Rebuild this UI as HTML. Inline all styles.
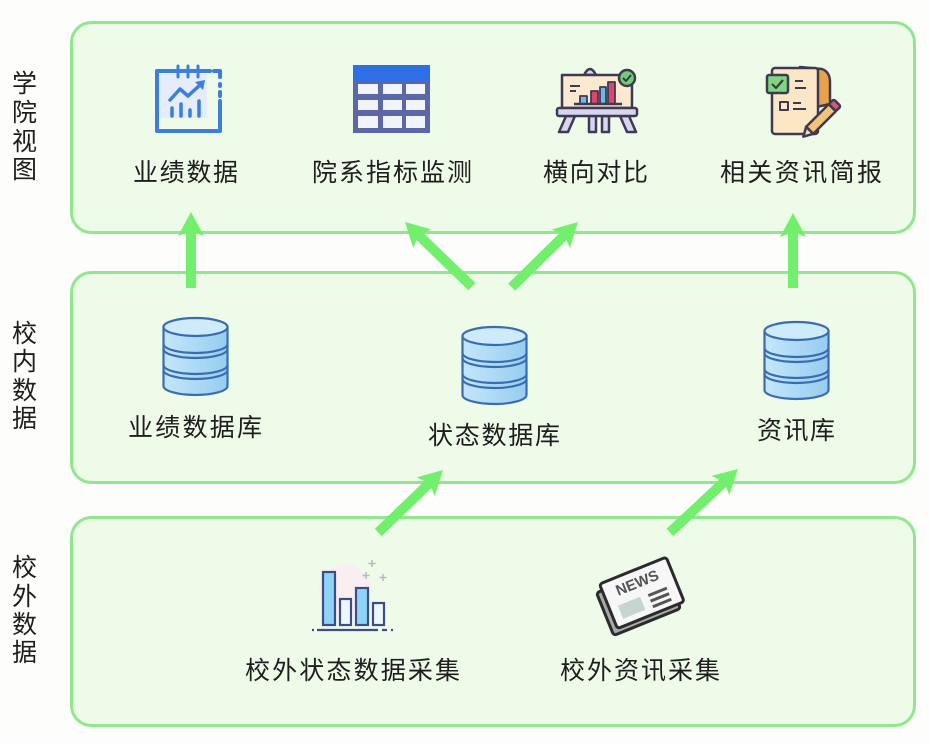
<!DOCTYPE html>
<html><head><meta charset="utf-8"><style>
html,body{margin:0;padding:0;background:#fdfdfb;}
svg{display:block;}
text{font-family:"Liberation Sans","Noto Sans CJK SC",sans-serif;fill:#1e1e1e;}
</style></head><body>
<svg width="930" height="744" viewBox="0 0 930 744" xmlns="http://www.w3.org/2000/svg">
<defs>
<linearGradient id="dbg" x1="0" y1="0" x2="1" y2="0">
<stop offset="0" stop-color="#c4e6fa"/><stop offset="1" stop-color="#96cdf0"/>
</linearGradient>
</defs>
<rect width="930" height="744" fill="#fdfdfb"/>
<!-- boxes -->
<rect x="71.5" y="22.5" width="843" height="210" rx="20" fill="#effbe9" stroke="#8fe88b" stroke-width="3"/>
<rect x="71.5" y="272.5" width="843" height="210" rx="20" fill="#effbe9" stroke="#8fe88b" stroke-width="3"/>
<rect x="71.5" y="517.5" width="843" height="208" rx="20" fill="#effbe9" stroke="#8fe88b" stroke-width="3"/>

<!-- vertical labels -->
<g font-size="25">
<text x="12" y="92">学</text><text x="12" y="121">院</text><text x="12" y="150">视</text><text x="12" y="178">图</text>
<text x="12" y="342">校</text><text x="12" y="370">内</text><text x="12" y="399">数</text><text x="12" y="427">据</text>
<text x="12" y="576">校</text><text x="12" y="605">外</text><text x="12" y="633">数</text><text x="12" y="661">据</text>
</g>

<!-- arrows -->
<g fill="#72ef6c">
<polygon transform="translate(191,212)" points="0,0 13,24 5,21 5,76 -5,76 -5,21 -13,24"/>
<polygon transform="translate(793,213)" points="0,0 13,24 5,21 5,75 -5,75 -5,21 -13,24"/>
<polygon transform="translate(405,222) rotate(-46)" points="0,0 13,24 5,21 5,93 -5,93 -5,21 -13,24"/>
<polygon transform="translate(578,222) rotate(45.5)" points="0,0 13,24 5,21 5,93 -5,93 -5,21 -13,24"/>
<polygon transform="translate(443,470) rotate(46)" points="0,0 13,24 5,21 5,90 -5,90 -5,21 -13,24"/>
<polygon transform="translate(738,469) rotate(47)" points="0,0 13,24 5,21 5,93 -5,93 -5,21 -13,24"/>
</g>

<!-- icon 1: calendar chart -->
<rect x="159" y="74" width="48" height="44" fill="#e4edf9"/>
<g stroke="#3b7de0" fill="none" stroke-width="4" stroke-linecap="round" stroke-linejoin="round">
<path d="M210,71 H157 V131 H220 V101"/>
<path d="M220,92 V96"/>
<path d="M220,84 V86"/>
<path d="M214,71 H220 V77"/>
<path d="M178,66 V77 M188,66 V77 M198,66 V77" stroke-width="3"/>
<polyline points="170,100 180,89 188,96 200,85" stroke-width="3.5"/>
<path d="M172,108 V116 M181,104 V116 M190,110 V116 M199,101 V116" stroke-width="3.5"/>
</g>
<polygon points="205,80 195,82 203,90" fill="#3b7de0"/>

<!-- icon 2: table -->
<rect x="353" y="65" width="77" height="68" fill="#5b67a6"/>
<rect x="353" y="65" width="77" height="17" fill="#2f6fe6"/>
<g fill="#f1f5fb">
<rect x="358" y="84" width="20" height="10"/><rect x="383" y="84" width="19" height="10"/><rect x="406" y="84" width="19" height="10"/>
<rect x="358" y="100" width="20" height="10"/><rect x="383" y="100" width="19" height="10"/><rect x="406" y="100" width="19" height="10"/>
<rect x="358" y="116" width="20" height="12"/><rect x="383" y="116" width="19" height="12"/><rect x="406" y="116" width="19" height="12"/>
</g>

<!-- icon 3: easel -->
<g stroke="#3d3a52" stroke-width="2.5" stroke-linejoin="round">
<path d="M584,75 Q590,63 596,75 Z" fill="#d9d4f0"/>
<rect x="562" y="75" width="70" height="33" fill="#fce9d0"/>
<polygon points="566,116 575,116 568,132 559,132" fill="#d9d4f0"/>
<rect x="589" y="116" width="7" height="16" fill="#d9d4f0"/>
<rect x="602" y="116" width="7" height="16" fill="#d9d4f0"/>
<polygon points="620,116 629,116 636,132 627,132" fill="#d9d4f0"/>
<rect x="557" y="108" width="80" height="8" rx="2" fill="#d9d4f0"/>
<rect x="580" y="96" width="7" height="8" fill="#6fb8ec" stroke-width="1.8"/>
<rect x="591" y="91" width="7" height="13" fill="#e0446a" stroke-width="1.8"/>
<rect x="600" y="87" width="6" height="17" fill="#6fb8ec" stroke-width="1.8"/>
<rect x="608" y="82" width="7" height="22" fill="#e0446a" stroke-width="1.8"/>
<path d="M574,104 H622" fill="none"/>
<path d="M570,86 H580 M570,91 H576" fill="none" stroke-width="2"/>
<circle cx="627" cy="78" r="8" fill="#6fcf73"/>
<path d="M623,78 L626,81 L631,75" fill="none" stroke-width="2"/>
</g>

<!-- icon 4: document + pencil -->
<g stroke="#3d3a52" stroke-width="2.5" stroke-linejoin="round">
<path d="M800,67 L822,69 Q830,72 830,82 L830,104 L812,108 Z" fill="#e9a14a"/>
<rect x="772" y="68" width="46" height="66" rx="3" fill="#fbe6c6"/>
<rect x="767" y="75" width="21" height="18" rx="2" fill="#7ed67f"/>
<path d="M772,84 L776,88 L783,80" fill="none" stroke-width="2.2"/>
<path d="M795,81 H803 M795,88 H806" fill="none" stroke-width="2"/>
<rect x="780" y="102" width="8" height="8" fill="#fbe6c6" stroke-width="2"/>
<path d="M793,103 H801 M793,109 H806" fill="none" stroke-width="2"/>
<g transform="translate(821,119) rotate(-45)">
<rect x="-16" y="-5" width="32" height="10" fill="#f3c37c"/>
<rect x="16" y="-5" width="7" height="10" rx="2" fill="#d9577e"/>
<path d="M-16,-5 L-25,0 L-16,5 Z" fill="#f6dcb0"/>
</g>
</g>

<!-- DB icons -->
<g transform="translate(195.5,318)" stroke="#3a6cb0" stroke-width="2.2">
<path d="M-32,9 V68 A32,9 0 0 0 32,68 V9 Z" fill="url(#dbg)"/>
<path d="M-32,26 A32,9 0 0 0 32,26 M-32,31 A32,9 0 0 0 32,31 M-32,47 A32,9 0 0 0 32,47 M-32,52 A32,9 0 0 0 32,52" fill="none"/>
<ellipse cx="0" cy="9" rx="32" ry="9" fill="#cdebfb"/>
</g>
<g transform="translate(494.5,327)" stroke="#3a6cb0" stroke-width="2.2">
<path d="M-32,9 V68 A32,9 0 0 0 32,68 V9 Z" fill="url(#dbg)"/>
<path d="M-32,26 A32,9 0 0 0 32,26 M-32,31 A32,9 0 0 0 32,31 M-32,47 A32,9 0 0 0 32,47 M-32,52 A32,9 0 0 0 32,52" fill="none"/>
<ellipse cx="0" cy="9" rx="32" ry="9" fill="#cdebfb"/>
</g>
<g transform="translate(796.5,322)" stroke="#3a6cb0" stroke-width="2.2">
<path d="M-32,9 V68 A32,9 0 0 0 32,68 V9 Z" fill="url(#dbg)"/>
<path d="M-32,26 A32,9 0 0 0 32,26 M-32,31 A32,9 0 0 0 32,31 M-32,47 A32,9 0 0 0 32,47 M-32,52 A32,9 0 0 0 32,52" fill="none"/>
<ellipse cx="0" cy="9" rx="32" ry="9" fill="#cdebfb"/>
</g>

<!-- bar chart icon -->
<circle cx="345" cy="590" r="26" fill="#fbeef0"/>
<g stroke="#3f4c8a" stroke-width="2.2" fill="#8fd3f7">
<rect x="323" y="572" width="12" height="53"/>
<rect x="340" y="599" width="11" height="26" fill="#eef7fc"/>
<rect x="356" y="588" width="12" height="37"/>
<rect x="373" y="603" width="11" height="22" fill="#eef7fc"/>
<path d="M317,630 H378 M382,630 H387 M391,630 H393 M312,630 H314" fill="none"/>
</g>
<g stroke="#b7b7c0" stroke-width="1.5">
<path d="M372,560 V567 M368.5,563.5 H375.5"/>
<path d="M366,572 V579 M362.5,575.5 H369.5"/>
<path d="M383,574 V581 M379.5,577.5 H386.5"/>
</g>

<!-- newspaper icon -->
<g transform="translate(642,596) rotate(-22)">
<rect x="-41" y="-20" width="72" height="46" rx="3" fill="#a9a9a9" stroke="#2b2b2b" stroke-width="3"/>
<rect x="-35" y="-27" width="72" height="48" rx="3" fill="#f7f7f7" stroke="#2b2b2b" stroke-width="3"/>
<text x="-22" y="-9" font-size="15" font-weight="bold" style="fill:#555">NEWS</text>
<rect x="-26" y="0" width="24" height="14" fill="#c6d6cf"/>
<path d="M6,2 H26 M6,8 H26 M6,14 H26" stroke="#555" stroke-width="3"/>
</g>

<!-- labels -->
<g font-size="25">
<text x="133" y="181" textLength="105" lengthAdjust="spacing">业绩数据</text>
<text x="312" y="181" textLength="160" lengthAdjust="spacing">院系指标监测</text>
<text x="543" y="181" textLength="105" lengthAdjust="spacing">横向对比</text>
<text x="720" y="181" textLength="162" lengthAdjust="spacing">相关资讯简报</text>
<text x="128" y="436" textLength="134" lengthAdjust="spacing">业绩数据库</text>
<text x="428" y="444" textLength="132" lengthAdjust="spacing">状态数据库</text>
<text x="757" y="439" textLength="78" lengthAdjust="spacing">资讯库</text>
<text x="245" y="679" textLength="215" lengthAdjust="spacing">校外状态数据采集</text>
<text x="560" y="679" textLength="160" lengthAdjust="spacing">校外资讯采集</text>
</g>
</svg>
</body></html>
